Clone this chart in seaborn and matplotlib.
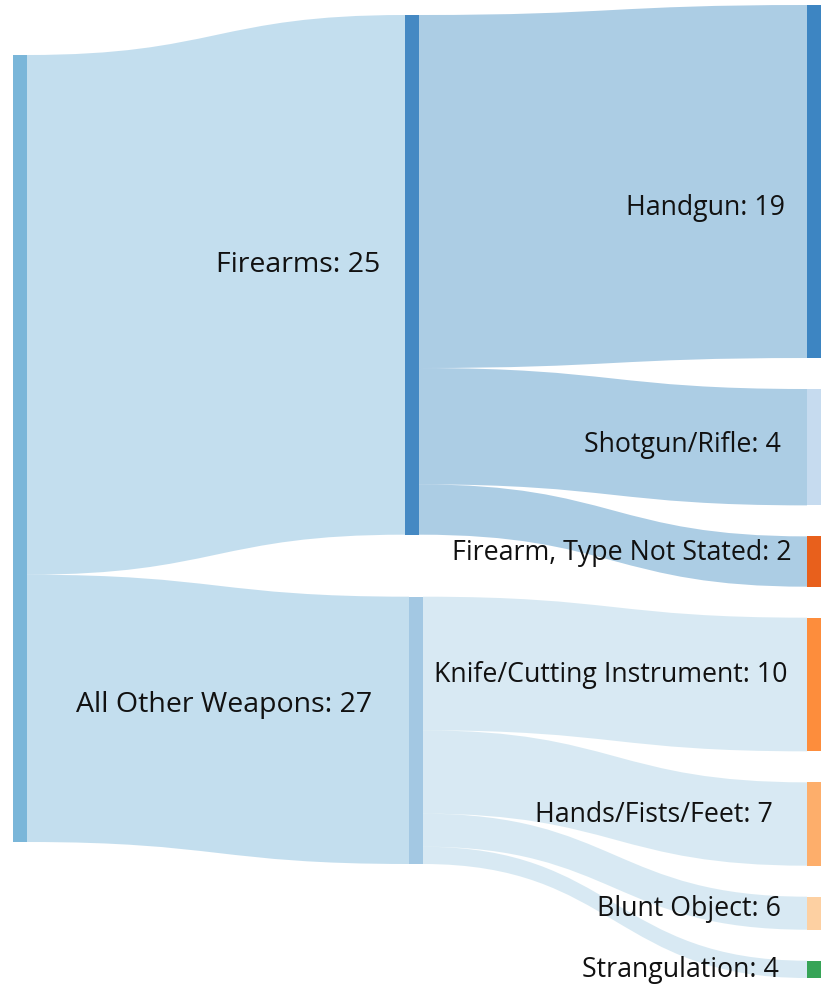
import numpy as np
import matplotlib
matplotlib.use("Agg")
import matplotlib.pyplot as plt
import seaborn as sns
from matplotlib.path import Path
from matplotlib.patches import PathPatch, Rectangle


# data: weapon groups and weapon types (labels show the counts,
# band thickness follows the share read off the chart)
GROUPS = ["Firearms", "All Other Weapons"]
GROUP_COUNTS = [25, 27]
WEAPONS = ["Handgun", "Shotgun/Rifle", "Firearm, Type Not Stated",
           "Knife/Cutting Instrument", "Hands/Fists/Feet", "Blunt Object",
           "Strangulation"]
WEAPON_COUNTS = [19, 4, 2, 10, 7, 6, 4]
WEAPON_GROUP = [0, 0, 0, 1, 1, 1, 1]
WEAPON_SHARE = [44.9, 14.8, 6.4, 17.0, 10.6, 4.2, 2.2]

# layout (pixels, figure is 830x985)
W, H = 830, 985
NODE_W = 14
ROOT_X, ROOT_TOP, ROOT_H = 13, 55, 787
GROUP_X = [405, 409]
GROUP_TOP, GROUP_PAD = 15, 62
LEAF_X, LEAF_TOP, LEAF_PAD = 807, 5, 31
GROUP_LABEL_POS = [(380, 265), (372, 705)]
LEAF_LABEL_POS = [(785, 208), (781, 445), (792, 553), (787, 675),
                  (773, 815), (781, 909), (779, 970)]
GROUP_FS, LEAF_FS = 20.5, 19.3

pal = sns.color_palette("tab20c")
ROOT_COLOR = "#7ab6d9"
GROUP_COLORS = ["#4589c3", "#a3c8e3"]
LEAF_COLORS = ["#3d85c2", pal[3], "#e8601c", pal[5], pal[6], pal[7], "#37a457"]
ROOT_LINK = pal[1]
GROUP_LINKS = [pal[0], pal[2]]
LINK_ALPHA = 0.4


def band(ax, x0, y0a, y0b, x1, y1a, y1b, color):
    xm = (x0 + x1) / 2
    verts = [(x0, y0a), (xm, y0a), (xm, y1a), (x1, y1a),
             (x1, y1b), (xm, y1b), (xm, y0b), (x0, y0b), (x0, y0a)]
    codes = [Path.MOVETO, Path.CURVE4, Path.CURVE4, Path.CURVE4,
             Path.LINETO, Path.CURVE4, Path.CURVE4, Path.CURVE4, Path.CLOSEPOLY]
    ax.add_patch(PathPatch(Path(verts, codes), facecolor=color,
                           edgecolor="none", alpha=LINK_ALPHA, zorder=1))


sns.set_theme(style="white")
plt.rcParams["font.family"] = ["Open Sans", "DejaVu Sans"]

fig = plt.figure(figsize=(W / 100, H / 100), dpi=100)
ax = fig.add_axes([0, 0, 1, 1])
ax.set_xlim(0, W)
ax.set_ylim(H, 0)
ax.axis("off")

share = np.array(WEAPON_SHARE)
group_share = np.array([share[np.array(WEAPON_GROUP) == g].sum() for g in range(len(GROUPS))])
scale = ROOT_H / group_share.sum()

# node extents
group_h = group_share * scale
group_top = []
y = GROUP_TOP
for h in group_h:
    group_top.append(y)
    y += h + GROUP_PAD

leaf_h = share * scale
leaf_top = []
y = LEAF_TOP
for h in leaf_h:
    leaf_top.append(y)
    y += h + LEAF_PAD

# root -> group links
y_src = ROOT_TOP
for g in range(len(GROUPS)):
    band(ax, ROOT_X + NODE_W, y_src, y_src + group_h[g],
         GROUP_X[g], group_top[g], group_top[g] + group_h[g], ROOT_LINK)
    y_src += group_h[g]

# group -> leaf links
src_cursor = list(group_top)
for i, g in enumerate(WEAPON_GROUP):
    band(ax, GROUP_X[g] + NODE_W, src_cursor[g], src_cursor[g] + leaf_h[i],
         LEAF_X, leaf_top[i], leaf_top[i] + leaf_h[i], GROUP_LINKS[g])
    src_cursor[g] += leaf_h[i]

# nodes
ax.add_patch(Rectangle((ROOT_X, ROOT_TOP), NODE_W, ROOT_H, color=ROOT_COLOR, lw=0, zorder=2))
for g in range(len(GROUPS)):
    ax.add_patch(Rectangle((GROUP_X[g], group_top[g]), NODE_W, group_h[g],
                           color=GROUP_COLORS[g], lw=0, zorder=2))
for i in range(len(WEAPONS)):
    ax.add_patch(Rectangle((LEAF_X, leaf_top[i]), NODE_W, leaf_h[i],
                           color=LEAF_COLORS[i], lw=0, zorder=2))

# labels
for g, name in enumerate(GROUPS):
    x, y = GROUP_LABEL_POS[g]
    ax.text(x, y, f"{name}: {GROUP_COUNTS[g]}", ha="right", va="center",
            fontsize=GROUP_FS, color="#111111", zorder=3)
for i, name in enumerate(WEAPONS):
    x, y = LEAF_LABEL_POS[i]
    ax.text(x, y, f"{name}: {WEAPON_COUNTS[i]}", ha="right", va="center",
            fontsize=LEAF_FS, color="#111111", zorder=3)

fig.savefig("out.png", dpi=100, facecolor="white")
